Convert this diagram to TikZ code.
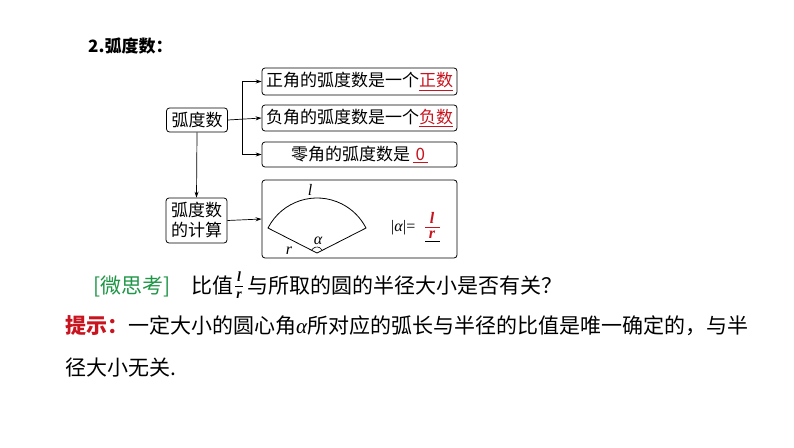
\documentclass[tikz,border=0pt]{standalone}
\usepackage{fontspec}
\setmainfont{Liberation Serif}
\newfontfamily\cjk{Noto Sans CJK SC}
\usetikzlibrary{arrows.meta}
\definecolor{myred}{RGB}{200,20,30}
\definecolor{mygreen}{RGB}{30,150,70}
\begin{document}
\begin{tikzpicture}[x=1pt,y=-1pt,
  bx/.style={draw,rounded corners=3pt,line width=0.8pt,font=\cjk\fontsize{17}{19}\selectfont,inner sep=0pt},
  arr/.style={-{Stealth[length=6pt,width=4pt]},line width=0.7pt},
  it/.style={inner sep=0pt,font=\itshape\fontsize{16}{16}\selectfont},
  txt/.style={anchor=west,inner sep=0pt,font=\cjk\fontsize{21}{23}\selectfont}]
\useasboundingbox (0,0) rectangle (794,447);
\node[txt,font=\cjk\bfseries\fontsize{17}{20}\selectfont] (h) at (88,46) {2.弧度数：};
\node[bx,minimum width=61,minimum height=24] (a) at (197,120) {弧度数};
\node[bx,minimum width=195,minimum height=27] (b1) at (359.5,81.5) {正角的弧度数是一个\textcolor{myred}{\underline{正数}}};
\node[bx,minimum width=195,minimum height=26] (b2) at (359.5,118) {负角的弧度数是一个\textcolor{myred}{\underline{负数}}};
\node[bx,minimum width=195,minimum height=25] (b3) at (359.5,154.5) {零角的弧度数是\,\textcolor{myred}{\underline{\,0\,}}};
\node[bx,minimum width=61,minimum height=45,align=center,font=\cjk\fontsize{17}{20}\selectfont] (c) at (196.5,220.5) {弧度数\\的计算};
\node[bx,minimum width=195,minimum height=78] (d) at (359.5,219) {};
\coordinate (j) at (242,118);
\draw[arr] (a.east) -- (b2.west);
\draw[arr] (j) |- (b1.west);
\draw[arr] (j) |- (b3.west);
\draw[arr] (a.south) -- (c.north);
\draw[arr] (c.east) -- (d.west);
% sector
\coordinate (o) at (317,253);
\draw[line width=0.8pt] (o) -- ++(-153:55) arc[start angle=-153,end angle=-27,radius=55] -- cycle;
\draw[line width=0.6pt] (o) ++(-153:6) arc[start angle=-153,end angle=-27,radius=6];
\node[it] (l) at (310,190) {l};
\node[it] (al) at (318,241) {α};
\node[it] (r) at (289,251) {r};
\node[anchor=west,inner sep=0pt,font=\fontsize{16}{16}\selectfont] (f) at (391,228) {|\textit{α}|=};
\node[it,font=\bfseries\itshape\fontsize{16}{16}\selectfont,text=myred] (fl) at (432,218) {l};
\node[it,font=\bfseries\itshape\fontsize{16}{16}\selectfont,text=myred] (fr) at (432,235) {r};
\draw[myred,line width=0.8pt] (425,227) -- (440,227);
\draw[line width=0.8pt] (425,241) -- (440,241);
% bottom text
\node[txt] (q) at (93,286) {\textcolor{mygreen}{[微思考]}\quad 比值\hspace{14pt}与所取的圆的半径大小是否有关？};
\node[it,font=\bfseries\itshape\fontsize{14}{14}\selectfont] (ql) at (239,277) {l};
\node[it,font=\bfseries\itshape\fontsize{14}{14}\selectfont] (qr) at (239,295) {r};
\draw[line width=0.5pt] (235,286) -- (243,286);
\node[txt] (t1) at (65,326) {\textcolor{myred}{\bfseries 提示：}一定大小的圆心角{\rmfamily\itshape α}所对应的弧长与半径的比值是唯一确定的，与半};
\node[txt] (t2) at (65,368) {径大小无关.};
\end{tikzpicture}
\end{document}
